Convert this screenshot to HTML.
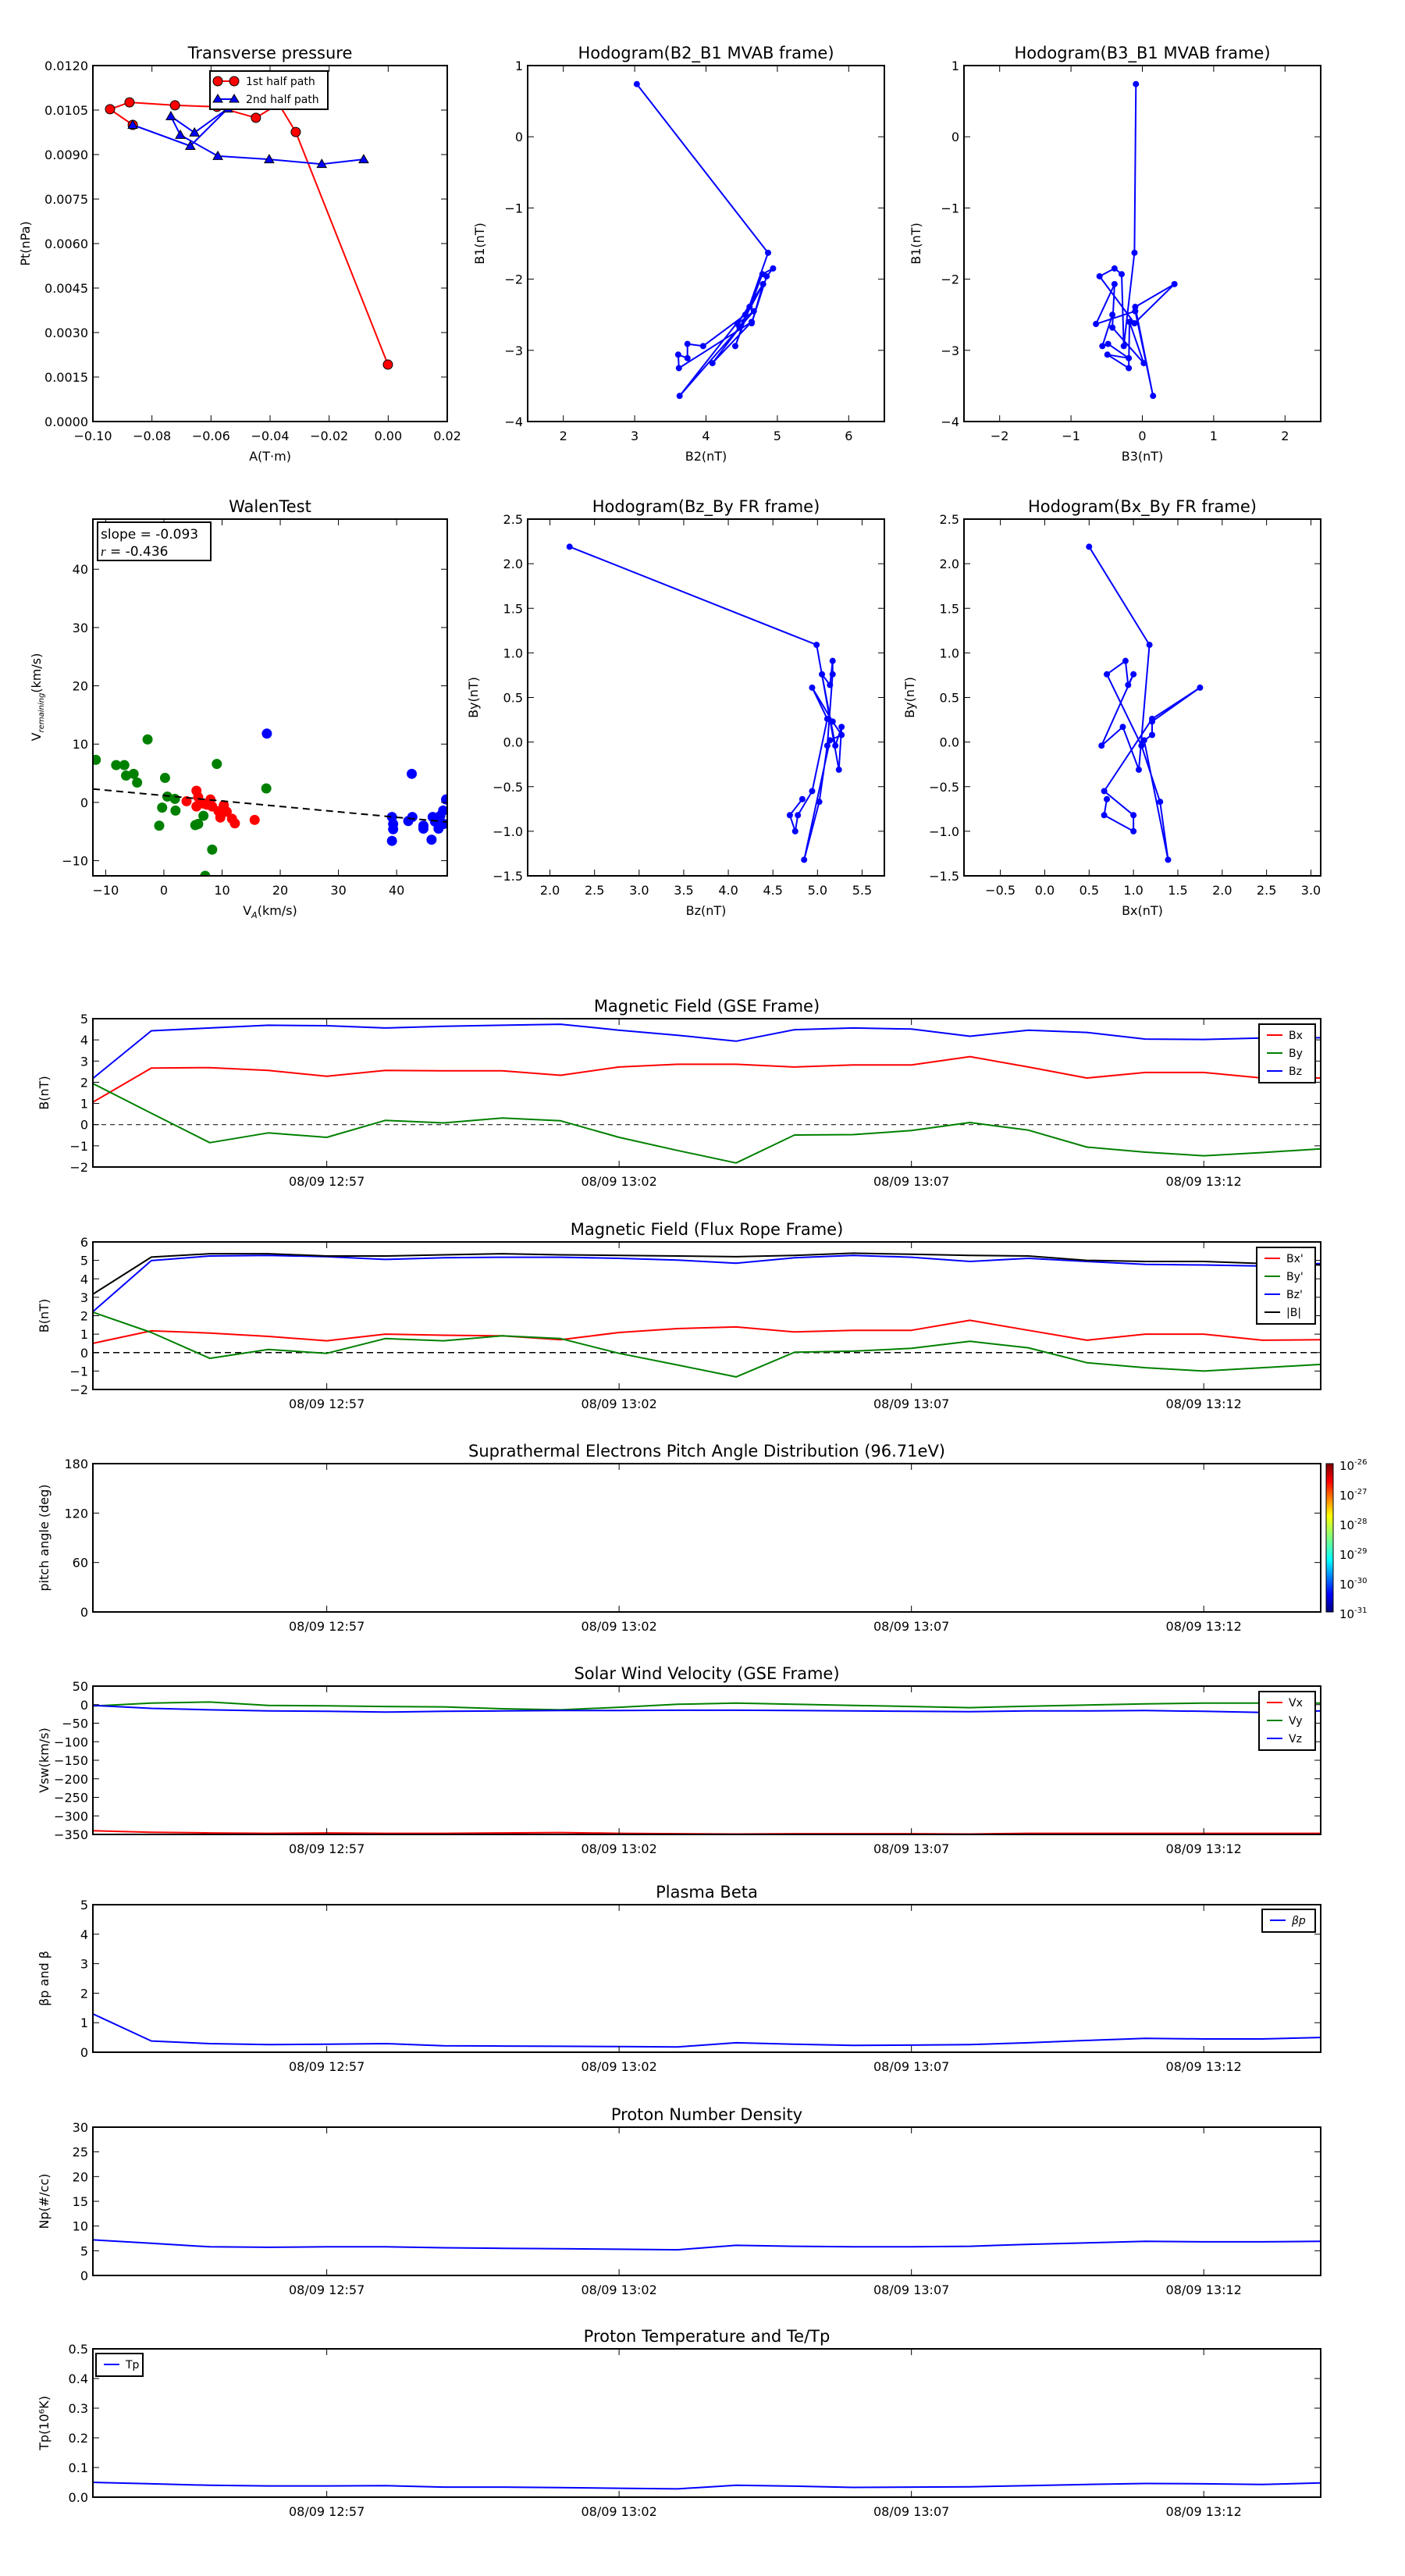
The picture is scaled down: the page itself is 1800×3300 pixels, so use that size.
<!DOCTYPE html>
<html><head><meta charset="utf-8"><title>Flux rope analysis</title>
<style>
html,body{margin:0;padding:0;background:#fff;}
svg{display:block;font-family:"DejaVu Sans","Liberation Sans",sans-serif;}
</style></head>
<body>
<svg id="fig" xmlns="http://www.w3.org/2000/svg" width="1800" height="3300" viewBox="0 0 1800 3300">
<defs>
<linearGradient id="jet" x1="0" y1="1" x2="0" y2="0">
<stop offset="0" stop-color="#00007f"/><stop offset="0.12" stop-color="#0000ff"/>
<stop offset="0.35" stop-color="#00ffff"/><stop offset="0.5" stop-color="#7fff7f"/>
<stop offset="0.65" stop-color="#ffff00"/><stop offset="0.88" stop-color="#ff0000"/>
<stop offset="1" stop-color="#7f0000"/></linearGradient>
</defs>
</svg>
<script>
// ---------- data ----------
// Transverse pressure
const ptRedA = [-0.0865,-0.0942,-0.0876,-0.0722,-0.058,-0.0448,-0.0371,-0.0313,-0.0001];
const ptRedP = [0.0100,0.01053,0.01076,0.01066,0.01061,0.01024,0.01071,0.00976,0.00192];
const ptBlueA = [-0.0865,-0.067,-0.0543,-0.0656,-0.0736,-0.0704,-0.0577,-0.0403,-0.0225,-0.0083];
const ptBlueP = [0.0100,0.00929,0.01055,0.00974,0.01029,0.00966,0.00895,0.00884,0.00868,0.00884];
// MVAB hodograms
const mvB1 = [0.74,-1.63,-2.94,-1.93,-1.85,-1.96,-2.62,-2.07,-2.39,-3.64,-2.45,-2.63,-2.07,-2.68,-3.18,-2.60,-3.25,-3.06,-3.11,-2.91,-2.94,-2.50];
const mvB2 = [3.03,4.87,4.41,4.79,4.94,4.85,4.64,4.80,4.61,3.63,4.67,4.44,4.80,4.47,4.09,4.64,3.62,3.61,3.74,3.74,3.96,4.55];
const mvB3 = [-0.09,-0.11,-0.26,-0.29,-0.39,-0.60,-0.11,0.45,-0.10,0.15,-0.10,-0.65,-0.39,-0.42,0.02,-0.18,-0.19,-0.49,-0.19,-0.48,-0.56,-0.42];
// Walen test
const walGreenX = [-11.7,-8.2,-6.8,-6.5,-5.2,-4.6,-2.8,0.2,0.6,1.9,-0.3,-0.8,2.0,5.4,5.9,6.8,8.3,7.1,9.1,17.6];
const walGreenY = [7.3,6.4,6.4,4.6,4.9,3.4,10.8,4.2,1.0,0.6,-0.9,-4.0,-1.4,-3.9,-3.7,-2.3,-8.1,-12.6,6.6,2.4];
const walRedX = [3.9,5.6,5.9,5.6,6.8,8.0,8.3,9.4,9.7,10.3,10.8,11.7,12.2,15.6,7.4];
const walRedY = [0.2,2.0,0.9,-0.7,-0.2,0.5,-0.7,-1.5,-2.6,-0.5,-1.6,-2.8,-3.6,-3.0,-0.4];
const walBlueX = [17.7,42.6,39.2,39.2,39.4,39.4,42.0,42.7,44.6,44.6,46.0,46.2,46.6,47.2,47.5,48.0,48.5,48.1,46.9];
const walBlueY = [11.8,4.9,-2.5,-6.6,-4.6,-3.7,-3.2,-2.5,-4.0,-4.5,-6.4,-2.5,-3.3,-4.5,-2.3,-1.4,0.5,-3.7,-3.0];
const walSlope = -0.093;
const walIntercept = 1.17;
// Time series (minutes after 12:53)
const minutes = [0,1,2,3,4,5,6,7,8,9,10,11,12,13,14,15,16,17,18,19,20,21];
const timeTickMin = [4,9,14,19];
const timeTickLabels = ["08/09 12:57","08/09 13:02","08/09 13:07","08/09 13:12"];
const gseBx = [1.06,2.67,2.69,2.56,2.28,2.56,2.54,2.54,2.33,2.72,2.85,2.85,2.72,2.82,2.82,3.21,2.72,2.2,2.46,2.46,2.2,2.2];
const gseBy = [1.94,0.54,-0.85,-0.39,-0.6,0.2,0.08,0.31,0.18,-0.6,-1.22,-1.81,-0.49,-0.47,-0.28,0.1,-0.26,-1.06,-1.3,-1.47,-1.32,-1.14];
const gseBz = [2.18,4.43,4.56,4.69,4.67,4.56,4.64,4.69,4.74,4.46,4.22,3.94,4.48,4.56,4.51,4.17,4.46,4.35,4.04,4.02,4.09,4.1];
const frBx = [0.5,1.18,1.06,0.88,0.64,1.0,0.94,0.91,0.7,1.09,1.3,1.39,1.12,1.21,1.21,1.75,1.21,0.67,1.0,1.0,0.67,0.7];
const frBy = [2.19,1.09,-0.31,0.17,-0.04,0.76,0.64,0.91,0.76,-0.04,-0.67,-1.32,0.02,0.08,0.23,0.61,0.26,-0.55,-0.82,-1.0,-0.82,-0.64];
const frBz = [2.22,4.99,5.24,5.27,5.2,5.05,5.14,5.17,5.17,5.11,5.02,4.85,5.14,5.27,5.17,4.94,5.11,4.94,4.78,4.75,4.69,4.83];
const frBt = [3.17,5.18,5.36,5.36,5.24,5.24,5.3,5.36,5.3,5.27,5.24,5.2,5.27,5.39,5.33,5.27,5.24,5.0,4.94,4.94,4.83,4.75];
const vx = [-340,-344,-346,-347,-346,-347,-347,-346,-345,-347,-348,-349,-348,-348,-348,-349,-347,-347,-347,-347,-347,-347];
const vy = [-3.6,4,7,-2,-3,-5,-6,-11,-14,-7,1,4,1,-2,-5,-8,-4,-1,2,4,4,4];
const vz = [-2,-10,-14,-17,-18,-20,-18,-17,-16,-16,-15,-15,-16,-17,-18,-19,-17,-17,-16,-18,-21,-17];
const betaP = [1.3,0.38,0.29,0.26,0.27,0.29,0.22,0.21,0.2,0.19,0.18,0.32,0.27,0.23,0.24,0.26,0.32,0.4,0.47,0.45,0.45,0.5];
const np = [7.2,6.5,5.8,5.7,5.8,5.8,5.6,5.5,5.4,5.3,5.2,6.1,5.9,5.8,5.8,5.9,6.3,6.6,6.9,6.8,6.8,6.9];
const tp = [0.05,0.045,0.04,0.038,0.038,0.039,0.034,0.034,0.032,0.03,0.028,0.04,0.037,0.033,0.034,0.035,0.039,0.043,0.046,0.045,0.043,0.048];
const cbarLabels = ["-26","-27","-28","-29","-30","-31"];

// ---------- helpers ----------
const NS = "http://www.w3.org/2000/svg";
const svg = document.getElementById("fig");
function mk(parent, tag, attrs, name, inter) {
  const el = document.createElementNS(NS, tag);
  for (const k in attrs) el.setAttribute(k, attrs[k]);
  
  
  parent.appendChild(el);
  return el;
}
function txt(parent, x, y, s, size, anchor, name, extra) {
  const a = {x: x, y: y, "font-size": size, "text-anchor": anchor || "middle", fill: "#000"};
  if (extra) for (const k in extra) a[k] = extra[k];
  const t = mk(parent, "text", a, name, false);
  t.textContent = s;
  return t;
}
function fmt(v, d) {
  const s = Math.abs(v).toFixed(d);
  return (v < -1e-12 ? "\u2212" : "") + s;
}
function axes(o) {
  const g = mk(svg, "g", {}, o.name, false);
  const sx = v => o.x + (v - o.xmin) / (o.xmax - o.xmin) * o.w;
  const sy = v => o.y + o.h - (v - o.ymin) / (o.ymax - o.ymin) * o.h;
  const plot = mk(g, "g", {}, o.name + "-plot-area", false);
  // title
  txt(g, o.x + o.w / 2, o.y - 9, o.title, 21, "middle", o.name + "-title");
  // ticks
  const tg = mk(g, "g", {stroke: "#000", "stroke-width": 1}, o.name + "-ticks", false);
  (o.xticks || []).forEach((v, i) => {
    const X = sx(v);
    mk(tg, "line", {x1: X, x2: X, y1: o.y + o.h, y2: o.y + o.h - 8}, "x-tick", false);
    mk(tg, "line", {x1: X, x2: X, y1: o.y, y2: o.y + 8}, "x-tick-top", false);
    const lab = o.xlabels ? o.xlabels[i] : fmt(v, o.xd || 0);
    txt(g, X, o.y + o.h + 24, lab, 16, "middle", "x-tick-label");
  });
  (o.yticks || []).forEach((v, i) => {
    const Y = sy(v);
    mk(tg, "line", {x1: o.x, x2: o.x + 8, y1: Y, y2: Y}, "y-tick", false);
    mk(tg, "line", {x1: o.x + o.w, x2: o.x + o.w - 8, y1: Y, y2: Y}, "y-tick-right", false);
    txt(g, o.x - 6, Y + 6, fmt(v, o.yd || 0), 16, "end", "y-tick-label");
  });
  if (o.xlabel) txt(g, o.x + o.w / 2, o.y + o.h + 50, o.xlabel, 16, "middle", "x-axis-title");
  if (o.ylabel) {
    const t = txt(g, 0, 0, o.ylabel, 16, "middle", "y-axis-title", {transform: "translate(" + (o.ylx || o.x - 62) + "," + (o.y + o.h / 2) + ") rotate(-90)"});
  }
  g.frame = () => mk(g, "rect", {x: o.x, y: o.y, width: o.w, height: o.h, fill: "none", stroke: "#000", "stroke-width": 2}, o.name + "-frame", false);
  return {g: g, plot: plot, sx: sx, sy: sy, o: o};
}
function polyline(ax, xs, ys, color, name, w, dash) {
  const pts = xs.map((v, i) => ax.sx(v).toFixed(1) + "," + ax.sy(ys[i]).toFixed(1)).join(" ");
  const a = {points: pts, fill: "none", stroke: color, "stroke-width": w || 2, "stroke-linejoin": "round"};
  if (dash) a["stroke-dasharray"] = dash;
  return mk(ax.plot, "polyline", a, name, false);
}
function dots(ax, xs, ys, color, r, name, stroke) {
  xs.forEach((v, i) => {
    const a = {cx: ax.sx(v), cy: ax.sy(ys[i]), r: r, fill: color};
    if (stroke) { a.stroke = "#000"; a["stroke-width"] = 1; }
    mk(ax.plot, "circle", a, name, false);
  });
}
function tris(ax, xs, ys, color, s, name) {
  xs.forEach((v, i) => {
    const X = ax.sx(v), Y = ax.sy(ys[i]);
    mk(ax.plot, "polygon", {points: X + "," + (Y - s) + " " + (X - s) + "," + (Y + s * 0.75) + " " + (X + s) + "," + (Y + s * 0.75), fill: color, stroke: "#000", "stroke-width": 1}, name, false);
  });
}
function clip(ax) {
  const id = "clip-" + ax.o.name;
  const cp = mk(svg.querySelector("defs"), "clipPath", {id: id}, id, false);
  mk(cp, "rect", {x: ax.o.x, y: ax.o.y, width: ax.o.w, height: ax.o.h}, "clip-rect", false);
  ax.plot.setAttribute("clip-path", "url(#" + id + ")");
}
function legend(ax, x, y, w, entries, name) {
  const g = mk(ax.g, "g", {}, name, false);
  const h = entries.length * 23 + 6;
  mk(g, "rect", {x: x, y: y, width: w, height: h, fill: "#fff", stroke: "#000", "stroke-width": 2}, "legend-box", false);
  entries.forEach((e, i) => {
    const Y = y + 14 + i * 23;
    mk(g, "line", {x1: x + 10, x2: x + 30, y1: Y, y2: Y, stroke: e[1], "stroke-width": 2}, "legend-swatch", false);
    txt(g, x + 38, Y + 5, e[0], 14, "start", "legend-entry", e[2] ? {"font-style": "italic"} : null);
  });
}

// ---------- Transverse pressure ----------
(function () {
  const ax = axes({name: "transverse-pressure", x: 119, y: 84, w: 454, h: 456, xmin: -0.10, xmax: 0.02, ymin: 0, ymax: 0.012,
    xticks: [-0.10, -0.08, -0.06, -0.04, -0.02, 0.00, 0.02], xd: 2, yticks: [0, 0.0015, 0.003, 0.0045, 0.006, 0.0075, 0.009, 0.0105, 0.012], yd: 4,
    title: "Transverse pressure", xlabel: "A(T\u00b7m)", ylabel: "Pt(nPa)", ylx: 38});
  polyline(ax, ptRedA, ptRedP, "#ff0000", "first-half-path-line");
  polyline(ax, ptBlueA, ptBlueP, "#0000ff", "second-half-path-line");
  dots(ax, ptRedA, ptRedP, "#ff0000", 6, "first-half-point", true);
  tris(ax, ptBlueA, ptBlueP, "#0000ff", 6, "second-half-point");
  ax.g.frame();
  const g = mk(ax.g, "g", {}, "pressure-legend", false);
  mk(g, "rect", {x: 269, y: 91, width: 151, height: 49, fill: "#fff", stroke: "#000", "stroke-width": 2}, "legend-box", false);
  mk(g, "line", {x1: 279, x2: 300, y1: 104, y2: 104, stroke: "#ff0000", "stroke-width": 2}, "legend-swatch", false);
  mk(g, "circle", {cx: 279, cy: 104, r: 6, fill: "#ff0000", stroke: "#000"}, "legend-marker", false);
  mk(g, "circle", {cx: 300, cy: 104, r: 6, fill: "#ff0000", stroke: "#000"}, "legend-marker", false);
  txt(g, 315, 109, "1st half path", 14, "start", "legend-entry");
  mk(g, "line", {x1: 279, x2: 300, y1: 127, y2: 127, stroke: "#0000ff", "stroke-width": 2}, "legend-swatch", false);
  mk(g, "polygon", {points: "279,121 273,131 285,131", fill: "#0000ff", stroke: "#000"}, "legend-marker", false);
  mk(g, "polygon", {points: "300,121 294,131 306,131", fill: "#0000ff", stroke: "#000"}, "legend-marker", false);
  txt(g, 315, 132, "2nd half path", 14, "start", "legend-entry");
})();

// ---------- MVAB hodograms ----------
(function () {
  const a1 = axes({name: "hodogram-b2-b1", x: 676, y: 84, w: 457, h: 456, xmin: 1.5, xmax: 6.5, ymin: -4, ymax: 1,
    xticks: [2, 3, 4, 5, 6], yticks: [-4, -3, -2, -1, 0, 1], title: "Hodogram(B2_B1 MVAB frame)", xlabel: "B2(nT)", ylabel: "B1(nT)", ylx: 620});
  polyline(a1, mvB2, mvB1, "#0000ff", "b2-b1-path");
  dots(a1, mvB2, mvB1, "#0000ff", 4, "b2-b1-point");
  a1.g.frame();
  const a2 = axes({name: "hodogram-b3-b1", x: 1235, y: 84, w: 457, h: 456, xmin: -2.5, xmax: 2.5, ymin: -4, ymax: 1,
    xticks: [-2, -1, 0, 1, 2], yticks: [-4, -3, -2, -1, 0, 1], title: "Hodogram(B3_B1 MVAB frame)", xlabel: "B3(nT)", ylabel: "B1(nT)", ylx: 1179});
  polyline(a2, mvB3, mvB1, "#0000ff", "b3-b1-path");
  dots(a2, mvB3, mvB1, "#0000ff", 4, "b3-b1-point");
  a2.g.frame();
})();

// ---------- Walen test ----------
(function () {
  const ax = axes({name: "walen-test", x: 119, y: 665, w: 454, h: 457, xmin: -12.2, xmax: 48.7, ymin: -12.6, ymax: 48.6,
    xticks: [-10, 0, 10, 20, 30, 40], yticks: [-10, 0, 10, 20, 30, 40], title: "WalenTest", xlabel: "", ylabel: "", ylx: 50});
  clip(ax);
  dots(ax, walGreenX, walGreenY, "#008000", 6.5, "walen-green-point");
  dots(ax, walRedX, walRedY, "#ff0000", 6.5, "walen-red-point");
  dots(ax, walBlueX, walBlueY, "#0000ff", 6.5, "walen-blue-point");
  const fx = [ax.o.xmin, ax.o.xmax];
  const fy = fx.map(v => walSlope * v + walIntercept);
  polyline(ax, fx, fy, "#000", "walen-fit-line", 2, "9,6");
  ax.g.frame();
  const xl = txt(ax.g, 346, 1172, "V", 16, "middle", "x-axis-title");
  const s1 = document.createElementNS(NS, "tspan"); s1.setAttribute("font-size", 11); s1.setAttribute("font-style", "italic"); s1.setAttribute("dy", 4); s1.textContent = "A"; xl.appendChild(s1);
  const s2 = document.createElementNS(NS, "tspan"); s2.setAttribute("dy", -4); s2.textContent = "(km/s)"; xl.appendChild(s2);
  const yl = txt(ax.g, 0, 0, "V", 16, "middle", "y-axis-title", {transform: "translate(52,893) rotate(-90)"});
  const s3 = document.createElementNS(NS, "tspan"); s3.setAttribute("font-size", 10); s3.setAttribute("font-style", "italic"); s3.setAttribute("dy", 4); s3.textContent = "remaining"; yl.appendChild(s3);
  const s4 = document.createElementNS(NS, "tspan"); s4.setAttribute("dy", -4); s4.textContent = "(km/s)"; yl.appendChild(s4);
  const bg = mk(ax.g, "g", {}, "walen-stats-box", false);
  mk(bg, "rect", {x: 125, y: 669, width: 145, height: 49, fill: "#fff", stroke: "#000", "stroke-width": 2}, "stats-box-frame", false);
  txt(bg, 129, 690, "slope = -0.093", 17, "start", "slope-text");
  const rt = txt(bg, 129, 712, "", 17, "start", "r-text");
  const ri = document.createElementNS(NS, "tspan"); ri.setAttribute("font-style", "italic"); ri.setAttribute("font-family", "Liberation Serif, serif"); ri.textContent = "r"; rt.appendChild(ri);
  const rv = document.createElementNS(NS, "tspan"); rv.textContent = " = -0.436"; rt.appendChild(rv);
})();

// ---------- FR hodograms ----------
(function () {
  const yt = [-1.5, -1.0, -0.5, 0.0, 0.5, 1.0, 1.5, 2.0, 2.5];
  const a1 = axes({name: "hodogram-bz-by", x: 676, y: 665, w: 457, h: 457, xmin: 1.75, xmax: 5.75, ymin: -1.5, ymax: 2.5,
    xticks: [2.0, 2.5, 3.0, 3.5, 4.0, 4.5, 5.0, 5.5], xd: 1, yticks: yt, yd: 1, title: "Hodogram(Bz_By FR frame)", xlabel: "Bz(nT)", ylabel: "By(nT)", ylx: 612});
  polyline(a1, frBz, frBy, "#0000ff", "bz-by-path");
  dots(a1, frBz, frBy, "#0000ff", 4, "bz-by-point");
  a1.g.frame();
  const a2 = axes({name: "hodogram-bx-by", x: 1235, y: 665, w: 457, h: 457, xmin: -0.91, xmax: 3.11, ymin: -1.5, ymax: 2.5,
    xticks: [-0.5, 0.0, 0.5, 1.0, 1.5, 2.0, 2.5, 3.0], xd: 1, yticks: yt, yd: 1, title: "Hodogram(Bx_By FR frame)", xlabel: "Bx(nT)", ylabel: "By(nT)", ylx: 1171});
  polyline(a2, frBx, frBy, "#0000ff", "bx-by-path");
  dots(a2, frBx, frBy, "#0000ff", 4, "bx-by-point");
  a2.g.frame();
})();

// ---------- time series ----------
function tsAxes(name, y, h, ymin, ymax, yticks, yd, title, ylabel) {
  const ax = axes({name: name, x: 119, y: y, w: 1573, h: h, xmin: 0, xmax: 21, ymin: ymin, ymax: ymax,
    xticks: timeTickMin, xlabels: timeTickLabels, yticks: yticks, yd: yd, title: title, ylabel: ylabel, ylx: 62});
  clip(ax);
  return ax;
}
(function () {
  const ax = tsAxes("gse-magnetic-field", 1305, 190, -2, 5, [-2, -1, 0, 1, 2, 3, 4, 5], 0, "Magnetic Field (GSE Frame)", "B(nT)");
  polyline(ax, [0, 21], [0, 0], "#000", "zero-line", 1, "6,5");
  polyline(ax, minutes, gseBx, "#ff0000", "bx-line");
  polyline(ax, minutes, gseBy, "#008000", "by-line");
  polyline(ax, minutes, gseBz, "#0000ff", "bz-line");
  ax.g.frame();
  legend(ax, 1613, 1312, 72, [["Bx", "#ff0000"], ["By", "#008000"], ["Bz", "#0000ff"]], "gse-legend");
})();
(function () {
  const ax = tsAxes("flux-rope-magnetic-field", 1591, 189, -2, 6, [-2, -1, 0, 1, 2, 3, 4, 5, 6], 0, "Magnetic Field (Flux Rope Frame)", "B(nT)");
  polyline(ax, [0, 21], [0, 0], "#000", "zero-line", 1.5, "8,5");
  polyline(ax, minutes, frBx, "#ff0000", "bx-prime-line");
  polyline(ax, minutes, frBy, "#008000", "by-prime-line");
  polyline(ax, minutes, frBz, "#0000ff", "bz-prime-line");
  polyline(ax, minutes, frBt, "#000000", "b-magnitude-line");
  ax.g.frame();
  legend(ax, 1610, 1598, 75, [["Bx'", "#ff0000"], ["By'", "#008000"], ["Bz'", "#0000ff"], ["|B|", "#000000"]], "fr-legend");
})();
(function () {
  const ax = tsAxes("pitch-angle-distribution", 1875, 190, 0, 180, [0, 60, 120, 180], 0, "Suprathermal Electrons Pitch Angle Distribution (96.71eV)", "pitch angle (deg)");
  ax.g.frame();
  const cb = mk(svg, "g", {}, "pad-colorbar", false);
  mk(cb, "rect", {x: 1699, y: 1875, width: 9, height: 190, fill: "url(#jet)", stroke: "#000", "stroke-width": 1}, "colorbar-gradient", false);
  cbarLabels.forEach((s, i) => {
    const Y = 1875 + i * 38;
    const t = txt(cb, 1716, Y + 8, "10", 15, "start", "colorbar-label");
    const sp = document.createElementNS(NS, "tspan"); sp.setAttribute("font-size", 10); sp.setAttribute("dy", -7); sp.textContent = s; t.appendChild(sp);
  });
})();
(function () {
  const ax = tsAxes("solar-wind-velocity", 2160, 190, -350, 50, [-350, -300, -250, -200, -150, -100, -50, 0, 50], 0, "Solar Wind Velocity (GSE Frame)", "Vsw(km/s)");
  polyline(ax, minutes, vx, "#ff0000", "vx-line");
  polyline(ax, minutes, vy, "#008000", "vy-line");
  polyline(ax, minutes, vz, "#0000ff", "vz-line");
  ax.g.frame();
  legend(ax, 1613, 2167, 72, [["Vx", "#ff0000"], ["Vy", "#008000"], ["Vz", "#0000ff"]], "velocity-legend");
})();
(function () {
  const ax = tsAxes("plasma-beta", 2440, 189, 0, 5, [0, 1, 2, 3, 4, 5], 0, "Plasma Beta", "\u03b2p and \u03b2");
  polyline(ax, minutes, betaP, "#0000ff", "beta-p-line");
  ax.g.frame();
  legend(ax, 1617, 2446, 68, [["\u03b2p", "#0000ff", true]], "beta-legend");
})();
(function () {
  const ax = tsAxes("proton-density", 2725, 190, 0, 30, [0, 5, 10, 15, 20, 25, 30], 0, "Proton Number Density", "Np(#/cc)");
  polyline(ax, minutes, np, "#0000ff", "np-line");
  ax.g.frame();
})();
(function () {
  const ax = tsAxes("proton-temperature", 3009, 190, 0, 0.5, [0, 0.1, 0.2, 0.3, 0.4, 0.5], 1, "Proton Temperature and Te/Tp", "Tp(10\u2076K)");
  polyline(ax, minutes, tp, "#0000ff", "tp-line");
  ax.g.frame();
  legend(ax, 123, 3015, 60, [["Tp", "#0000ff"]], "tp-legend");
})();
</script>
</body></html>
